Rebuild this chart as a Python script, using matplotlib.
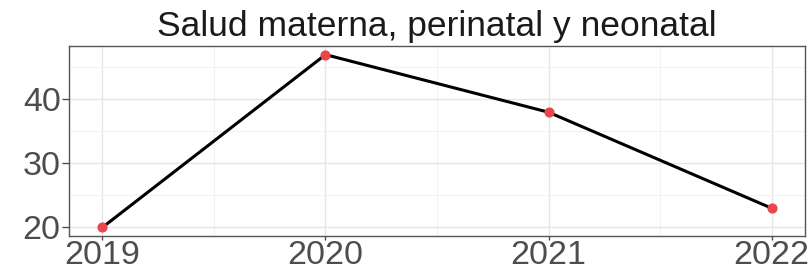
import matplotlib.pyplot as plt
from matplotlib.ticker import MultipleLocator

years = [2019, 2020, 2021, 2022]
values = [20.0, 47.0, 38.0, 23.0]
title = 'Salud materna, perinatal y neonatal'

plt.rcParams['font.family'] = ['Liberation Sans', 'DejaVu Sans']

fig = plt.figure(figsize=(8.09, 2.73), dpi=100)
ax = fig.add_axes([69 / 809, 1 - 236 / 273, (805 - 69) / 809, (236 - 46) / 273])

ax.plot(years, values, color='black', linewidth=2.2, zorder=3)
ax.scatter(years, values, color='#e8474c', s=40, zorder=4)

ax.set_xlim(2018.85, 2022.15)
ax.set_ylim(18.65, 48.35)
ax.set_xticks(years)
ax.yaxis.set_major_locator(MultipleLocator(10))
ax.yaxis.set_minor_locator(MultipleLocator(5))
ax.xaxis.set_minor_locator(MultipleLocator(0.5))

ax.grid(which='major', color='#e6e6e6', linewidth=1)
ax.grid(which='minor', color='#f2f2f2', linewidth=0.8)
ax.set_axisbelow(True)
for s in ax.spines.values():
    s.set_color('#555555')
    s.set_linewidth(1)

ax.tick_params(axis='both', which='major', labelsize=24.5, colors='#4d4d4d',
               length=5, width=1, pad=1)
ax.tick_params(axis='both', which='minor', length=0)
ax.tick_params(axis='x', length=3, pad=0)

ax.set_title(title, fontsize=25.5, color='#1a1a1a', pad=7)

fig.savefig('out.png', dpi=100, facecolor='white')
